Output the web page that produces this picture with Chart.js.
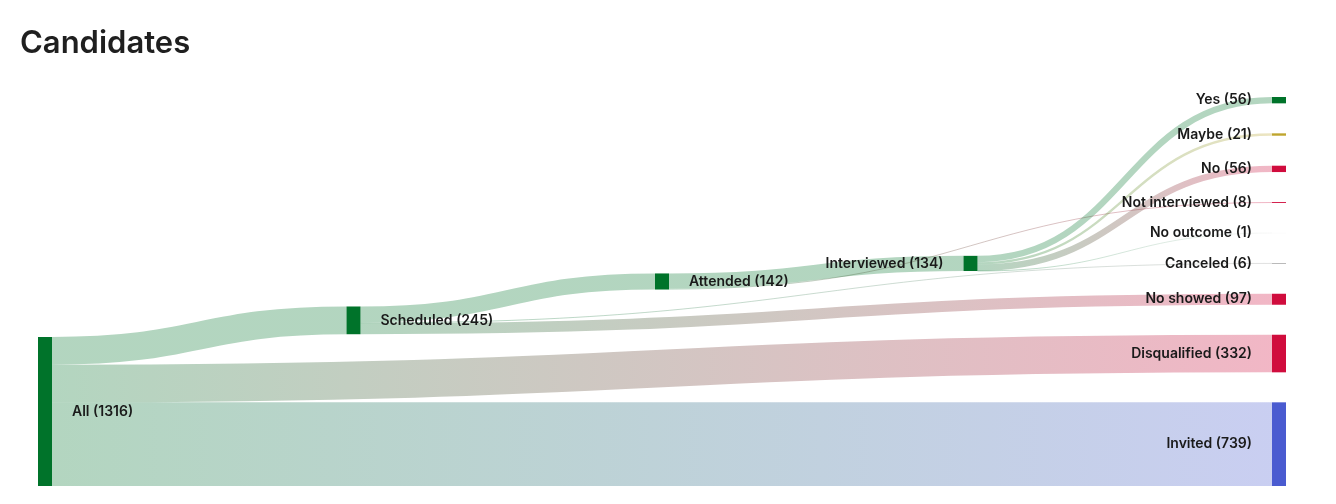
<!DOCTYPE html>
<html>
<head>
<meta charset="utf-8">
<title>Candidates</title>
<script src="https://cdn.jsdelivr.net/npm/chart.js@4.4.1/dist/chart.umd.min.js"></script>
<style>
  html, body { margin: 0; padding: 0; background: #fff; }
  #wrap { position: relative; width: 1336px; height: 504px; }
  #wrap h2 { position: absolute; left: 20px; top: 26px; margin: 0; font: 600 31px/1 Inter, sans-serif; color: #1f1f1f; }
  #wrap canvas { position: absolute; left: 0; top: 0; }
</style>
</head>
<body>
<div id="wrap">
  <canvas id="sankey" width="1336" height="504"></canvas>
  <h2>Candidates</h2>
</div>
<script>
var nodeNames = ['All', 'Scheduled', 'Attended', 'Interviewed', 'Yes', 'Maybe', 'No', 'Not interviewed', 'No outcome', 'Canceled', 'No showed', 'Disqualified', 'Invited'];
var nodeColors = ['#00732a', '#00732a', '#00732a', '#00732a', '#00732a', '#bfa52e', '#d00c3d', '#d00c3d', '#e6e6e6', '#9a9a9a', '#d00c3d', '#d00c3d', '#4a5bd0'];

var flowFrom = ['All', 'All', 'All', 'Scheduled', 'Scheduled', 'Scheduled', 'Attended', 'Attended', 'Interviewed', 'Interviewed', 'Interviewed', 'Interviewed'];
var flowTo = ['Scheduled', 'Disqualified', 'Invited', 'Attended', 'No showed', 'Canceled', 'Interviewed', 'Not interviewed', 'Yes', 'Maybe', 'No', 'No outcome'];
var flowValues = [245, 332, 739, 142, 97, 6, 134, 8, 56, 21, 56, 1];

var nodeWidth = 14;   // px
var nodePadding = 30; // px
var pad = {left: 38, right: 64, top: 97, bottom: 18};

function sum(list) {
  return list.reduce((a, l) => a + l.value, 0);
}

// same steps as d3-sankey (justify, nodes kept in given order), worked out in value units
function sankeyLayout(plotHeight) {
  var nodes = nodeNames.map((name, i) => ({name: name, color: nodeColors[i], index: i, sourceLinks: [], targetLinks: []}));
  var byName = {};
  nodes.forEach(n => byName[n.name] = n);
  var links = flowFrom.map((f, i) => {
    var l = {index: i, source: byName[f], target: byName[flowTo[i]], value: flowValues[i]};
    l.source.sourceLinks.push(l);
    l.target.targetLinks.push(l);
    return l;
  });
  nodes.forEach(n => n.value = Math.max(sum(n.sourceLinks), sum(n.targetLinks)));

  var current = nodes.slice(), depth = 0;
  while (current.length) {
    var next = [];
    current.forEach(n => {
      n.depth = depth;
      n.sourceLinks.forEach(l => { if (next.indexOf(l.target) < 0) next.push(l.target); });
    });
    current = next;
    depth++;
  }
  var columns = [];
  for (var c = 0; c < depth; c++) columns.push([]);
  nodes.forEach(n => {
    n.layer = n.sourceLinks.length ? n.depth : depth - 1;
    columns[n.layer].push(n);
  });

  var maxLen = Math.max(...columns.map(c => c.length));
  var pyPx = Math.min(nodePadding, plotHeight / (maxLen - 1));
  var kyPx = Math.min(...columns.map(c => (plotHeight - (c.length - 1) * pyPx) / sum(c)));
  var py = pyPx / kyPx;
  var y1 = plotHeight / kyPx;

  var byBreadth = (a, b) => a.y0 - b.y0;
  var byTarget = (a, b) => byBreadth(a.target, b.target) || a.index - b.index;
  var bySource = (a, b) => byBreadth(a.source, b.source) || a.index - b.index;

  function reorderLinks(col) {
    col.forEach(n => { n.sourceLinks.sort(byTarget); n.targetLinks.sort(bySource); });
  }
  function reorderNodeLinks(n) {
    n.targetLinks.forEach(l => l.source.sourceLinks.sort(byTarget));
    n.sourceLinks.forEach(l => l.target.targetLinks.sort(bySource));
  }

  columns.forEach(col => {
    var y = 0;
    col.forEach(n => {
      n.y0 = y;
      n.y1 = y + n.value;
      y = n.y1 + py;
      n.sourceLinks.forEach(l => l.width = l.value);
    });
    y = (y1 - y + py) / (col.length + 1);
    col.forEach((n, i) => { n.y0 += y * (i + 1); n.y1 += y * (i + 1); });
    reorderLinks(col);
  });

  function targetTop(source, target) {
    var y = source.y0 - (source.sourceLinks.length - 1) * py / 2;
    for (var l of source.sourceLinks) { if (l.target === target) break; y += l.width + py; }
    for (var l of target.targetLinks) { if (l.source === source) break; y -= l.width; }
    return y;
  }
  function sourceTop(source, target) {
    var y = target.y0 - (target.targetLinks.length - 1) * py / 2;
    for (var l of target.targetLinks) { if (l.source === source) break; y += l.width + py; }
    for (var l of source.sourceLinks) { if (l.target === target) break; y -= l.width; }
    return y;
  }

  function pushDown(col, y, i, alpha) {
    for (; i < col.length; ++i) {
      var d = (y - col[i].y0) * alpha;
      if (d > 1e-6) { col[i].y0 += d; col[i].y1 += d; }
      y = col[i].y1 + py;
    }
  }
  function pushUp(col, y, i, alpha) {
    for (; i >= 0; --i) {
      var d = (col[i].y1 - y) * alpha;
      if (d > 1e-6) { col[i].y0 -= d; col[i].y1 -= d; }
      y = col[i].y0 - py;
    }
  }
  function resolveCollisions(col, alpha) {
    var i = col.length >> 1, s = col[i];
    pushUp(col, s.y0 - py, i - 1, alpha);
    pushDown(col, s.y1 + py, i + 1, alpha);
    pushUp(col, y1, col.length - 1, alpha);
    pushDown(col, 0, 0, alpha);
  }

  var iterations = 6;
  for (var it = 0; it < iterations; it++) {
    var alpha = Math.pow(0.99, it);
    var beta = Math.max(1 - alpha, (it + 1) / iterations);
    for (var i = columns.length - 2; i >= 0; --i) {
      columns[i].forEach(s => {
        var y = 0, w = 0;
        s.sourceLinks.forEach(l => {
          var v = l.value * (l.target.layer - s.layer);
          y += sourceTop(s, l.target) * v;
          w += v;
        });
        if (!(w > 0)) return;
        var d = (y / w - s.y0) * alpha;
        s.y0 += d; s.y1 += d;
        reorderNodeLinks(s);
      });
      resolveCollisions(columns[i], beta);
    }
    for (var i = 1; i < columns.length; ++i) {
      columns[i].forEach(t => {
        var y = 0, w = 0;
        t.targetLinks.forEach(l => {
          var v = l.value * (t.layer - l.source.layer);
          y += targetTop(l.source, t) * v;
          w += v;
        });
        if (!(w > 0)) return;
        var d = (y / w - t.y0) * alpha;
        t.y0 += d; t.y1 += d;
        reorderNodeLinks(t);
      });
      resolveCollisions(columns[i], beta);
    }
  }

  nodes.forEach(n => {
    var a = n.y0, b = n.y0;
    n.sourceLinks.forEach(l => { l.y0 = a + l.width / 2; a += l.width; });
    n.targetLinks.forEach(l => { l.y1 = b + l.width / 2; b += l.width; });
  });

  return {nodes: nodes, links: links, columns: columns.length, yMax: y1};
}

var canvas = document.getElementById('sankey');
var graph = sankeyLayout(canvas.height - pad.top - pad.bottom);

var sankeyPlugin = {
  id: 'sankey',
  afterDatasetsDraw(chart) {
    var ctx = chart.ctx;
    var xs = chart.scales.x, ys = chart.scales.y;
    var unit = Math.abs(ys.getPixelForValue(1) - ys.getPixelForValue(0));

    ctx.save();
    graph.links.forEach(l => {
      var x0 = xs.getPixelForValue(l.source.layer) + nodeWidth;
      var x1 = xs.getPixelForValue(l.target.layer);
      var y0 = ys.getPixelForValue(l.y0);
      var y1 = ys.getPixelForValue(l.y1);
      var xm = (x0 + x1) / 2;
      var g = ctx.createLinearGradient(x0, 0, x1, 0);
      g.addColorStop(0, l.source.color);
      g.addColorStop(1, l.target.color);
      ctx.globalAlpha = 0.3;
      ctx.strokeStyle = g;
      ctx.lineWidth = Math.max(1, l.width * unit);
      ctx.beginPath();
      ctx.moveTo(x0, y0);
      ctx.bezierCurveTo(xm, y0, xm, y1, x1, y1);
      ctx.stroke();
    });

    ctx.globalAlpha = 1;
    graph.nodes.forEach(n => {
      var x = xs.getPixelForValue(n.layer);
      var top = ys.getPixelForValue(n.y0);
      var bottom = ys.getPixelForValue(n.y1);
      ctx.fillStyle = n.color;
      ctx.fillRect(x, top, nodeWidth, bottom - top);
    });

    ctx.font = '600 14px Inter, sans-serif';
    ctx.fillStyle = '#1a1a1a';
    ctx.textBaseline = 'middle';
    graph.nodes.forEach(n => {
      var x = xs.getPixelForValue(n.layer);
      var mid = (ys.getPixelForValue(n.y0) + ys.getPixelForValue(n.y1)) / 2;
      var text = n.name + ' (' + n.value + ')';
      if (x < chart.width / 2) {
        ctx.textAlign = 'left';
        ctx.fillText(text, x + nodeWidth + 20, mid);
      } else {
        ctx.textAlign = 'right';
        ctx.fillText(text, x - 20, mid);
      }
    });
    ctx.restore();
  }
};

var chart = new Chart(canvas.getContext('2d'), {
  type: 'scatter',
  data: {datasets: []},
  options: {
    responsive: false,
    animation: false,
    layout: {padding: pad},
    scales: {
      x: {type: 'linear', min: 0, max: graph.columns - 1, display: false},
      y: {type: 'linear', min: 0, max: graph.yMax, reverse: true, display: false}
    },
    plugins: {
      legend: {display: false},
      tooltip: {enabled: false}
    }
  },
  plugins: [sankeyPlugin]
});
</script>
</body>
</html>
